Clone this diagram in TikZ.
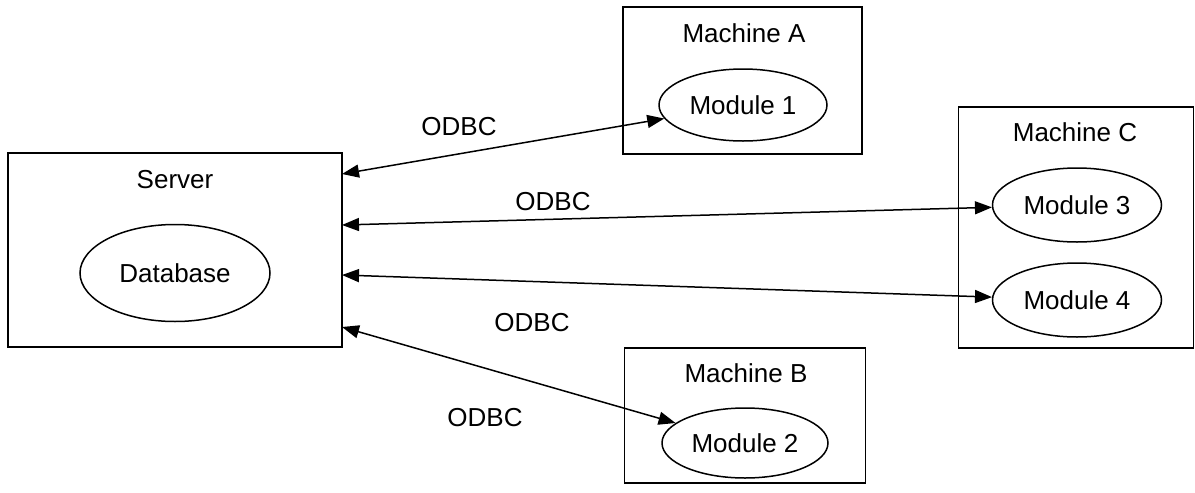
\documentclass[tikz,border=0pt]{standalone}
\usepackage{fontspec}
\setmainfont{Liberation Sans}
\usetikzlibrary{shapes.geometric,arrows.meta}
\begin{document}
\begin{tikzpicture}[x=1pt,y=-1pt,
  every node/.style={font=\fontsize{26}{30}\selectfont, inner sep=0pt},
  box/.style={draw, line width=1.5pt, rectangle},
  oval/.style={draw, line width=1.5pt, ellipse},
  link/.style={line width=1.5pt, {Triangle[length=17pt,width=13pt]}-{Triangle[length=17pt,width=13pt]}},
  lbl/.style={}]
\useasboundingbox (0,0) rectangle (1195,493);
% boxes
\node[box, minimum width=334pt, minimum height=194pt] (srv) at (175,250) {};
\node[box, minimum width=239pt, minimum height=147pt] (ma) at (742.5,80.5) {};
\node[box, minimum width=235pt, minimum height=241pt] (mc) at (1076,227.5) {};
\node[box, minimum width=241pt, minimum height=135pt] (mb) at (745,415.5) {};
% titles
\node (srvt) at (175,180) {Server};
\node (mat) at (744,33) {Machine A};
\node (mct) at (1075,132) {Machine C};
\node (mbt) at (746,373) {Machine B};
% ellipses
\node[oval, minimum width=190pt, minimum height=97pt] (db) at (175,273) {Database};
\node[oval, minimum width=168pt, minimum height=72pt] (m1) at (743,105) {Module 1};
\node[oval, minimum width=169pt, minimum height=74pt] (m3) at (1077,205) {Module 3};
\node[oval, minimum width=169pt, minimum height=74pt] (m4) at (1077,300) {Module 4};
\node[oval, minimum width=166pt, minimum height=70pt] (m2) at (745,443) {Module 2};
% server ends
\coordinate (s1) at (342,174);
\coordinate (s2) at (342,225);
\coordinate (s3) at (342,275);
\coordinate (s4) at (342,327);
\draw[link] (s1) -- (m1);
\draw[link] (s2) -- (m3);
\draw[link] (s3) -- (m4);
\draw[link] (s4) -- (m2);
% labels
\node[lbl] (l1) at (459,127) {ODBC};
\node[lbl] (l2) at (553,202) {ODBC};
\node[lbl] (l3) at (532,323) {ODBC};
\node[lbl] (l4) at (485,418) {ODBC};
\end{tikzpicture}
\end{document}
